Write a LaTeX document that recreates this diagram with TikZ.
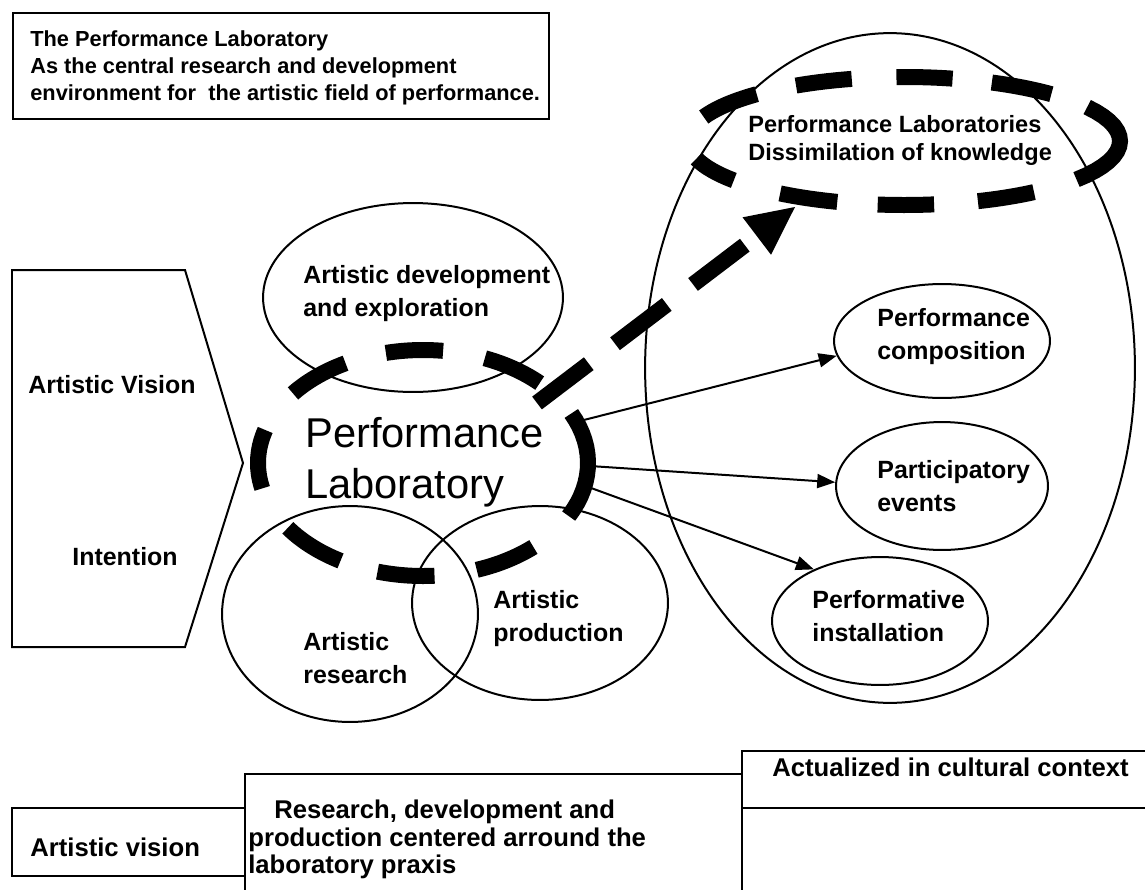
\documentclass[tikz,border=0pt]{standalone}
\usepackage{fontspec}
\setmainfont{Liberation Sans}
\usetikzlibrary{shapes.geometric,arrows.meta}
\begin{document}
\begin{tikzpicture}[x=0.02cm,y=-0.02cm,
  ln/.style={line width=0.04cm},
  ov/.style 2 args={ln, draw, ellipse, inner sep=0pt, minimum width={#1*0.04cm}, minimum height={#2*0.04cm}},
  hid/.style 2 args={ellipse, inner sep=0pt, minimum width={#1*0.04cm}, minimum height={#2*0.04cm}},
  box/.style={ln, draw, rectangle, anchor=north west, inner sep=0pt},
  bigdash/.style={line width=0.32cm, line cap=butt},
  thinarrow/.style={ln, -{Triangle[length=0.36cm,width=0.28cm]}},
  lbl/.style={anchor=north west, inner sep=0pt, align=left, font=\fontsize{14.2}{18.8}\selectfont\bfseries},
  botlbl/.style={anchor=north west, inner sep=0pt, align=left, font=\fontsize{14.6}{15.4}\selectfont\bfseries}
]
\useasboundingbox (0,0) rectangle (1145,889);
\clip (0,0) rectangle (1145,889);

% top box
\node[box, minimum width={536*0.02cm}, minimum height={106*0.02cm}] (titlebox) at (12,12) {};
\node[anchor=north west, inner sep=0pt, align=left, font=\fontsize{12.4}{15.4}\selectfont\bfseries] (titletext) at (30,30)
  {The Performance Laboratory\\As the central research and development\\environment for \ the artistic field of performance.};

% left pentagon
\draw[ln] (12,270) -- (185,270) -- (243,463) -- (185,647) -- (12,647) -- cycle;
\node[lbl] (tvision) at (28,375) {Artistic Vision};
\node[lbl] (tintent) at (72,547) {Intention};

% ellipses
\node[ov={150}{94.5}] (dev) at (413,297.5) {};
\node[ov={128}{108}] (res) at (350,614) {};
\node[ov={128}{97}] (prod) at (540,603) {};
\node[ov={245}{335}] (ctx) at (890,368) {};
\node[ov={108}{57}] (comp) at (942,341) {};
\node[ov={106}{64}] (part) at (942,486) {};
\node[ov={108}{64}] (inst) at (880,621) {};
\node[hid={165}{113}] (lab) at (423,463) {};
\node[hid={216}{64}] (diss) at (904,141) {};

% labels
\node[lbl] (tdev) at (303,265) {Artistic development\\and exploration};
\node[lbl] (tres) at (303,632) {Artistic\\research};
\node[lbl] (tprod) at (493,590) {Artistic\\production};
\node[lbl] (tcomp) at (877,308) {Performance\\composition};
\node[lbl] (tpart) at (877,460) {Participatory\\events};
\node[lbl] (tinst) at (812,590) {Performative\\installation};
\node[anchor=north west, inner sep=0pt, align=left, font=\fontsize{13.4}{15.9}\selectfont\bfseries] (tdiss) at (748,115)
  {Performance Laboratories\\Dissimilation of knowledge};
\node[anchor=north west, inner sep=0pt, align=left, font=\fontsize{23.7}{29}\selectfont] (tlab) at (305,417)
  {Performance\\Laboratory};

% thick dashed ellipses
\foreach \a/\b in {163/193,118/142,83/103,45/68,-28/26,-71/-48,-106/-86,-145/-120}
  \draw[bigdash] plot[domain=\a:\b, samples=16] ({423+165*cos(\x)},{463-113*sin(\x)});
\foreach \a/\b in {196/218,133/158,104/120,77/92,47/66,-37/32,-70/-53,-97/-82,-125/-108}
  \draw[bigdash] plot[domain=\a:\b, samples=16] ({904+216*cos(\x)},{141-64*sin(\x)});

% dashed arrow
\coordinate (dS) at (537,403);
\coordinate (dE) at (795,207);
\draw[bigdash, dash pattern=on 1.3cm off 0.66cm, -{Triangle[length=0.96cm,width=0.94cm,line width=0pt]}] (dS) -- (dE);

% thin arrows
\draw[thinarrow] (lab.15) -- (comp.188);
\draw[thinarrow] (lab.-1) -- (part.178);
\draw[thinarrow] (lab.-8) -- (inst.142);

% bottom table
\node[box, minimum width={233*0.02cm}, minimum height={68*0.02cm}] (avbox) at (11,807) {};
\node[box, minimum width={497*0.02cm}, minimum height={140*0.02cm}] (midbox) at (244,773) {};
\node[box, minimum width={430*0.02cm}, minimum height={57*0.02cm}] (actbox) at (741,750) {};
\node[botlbl] (tav) at (30,838) {Artistic vision};
\node[botlbl] (tmid) at (248,800) {\hspace*{0.52cm}Research, development and\\production centered arround the\\laboratory praxis};
\node[botlbl] (tact) at (772,758) {Actualized in cultural context};
\end{tikzpicture}
\end{document}
